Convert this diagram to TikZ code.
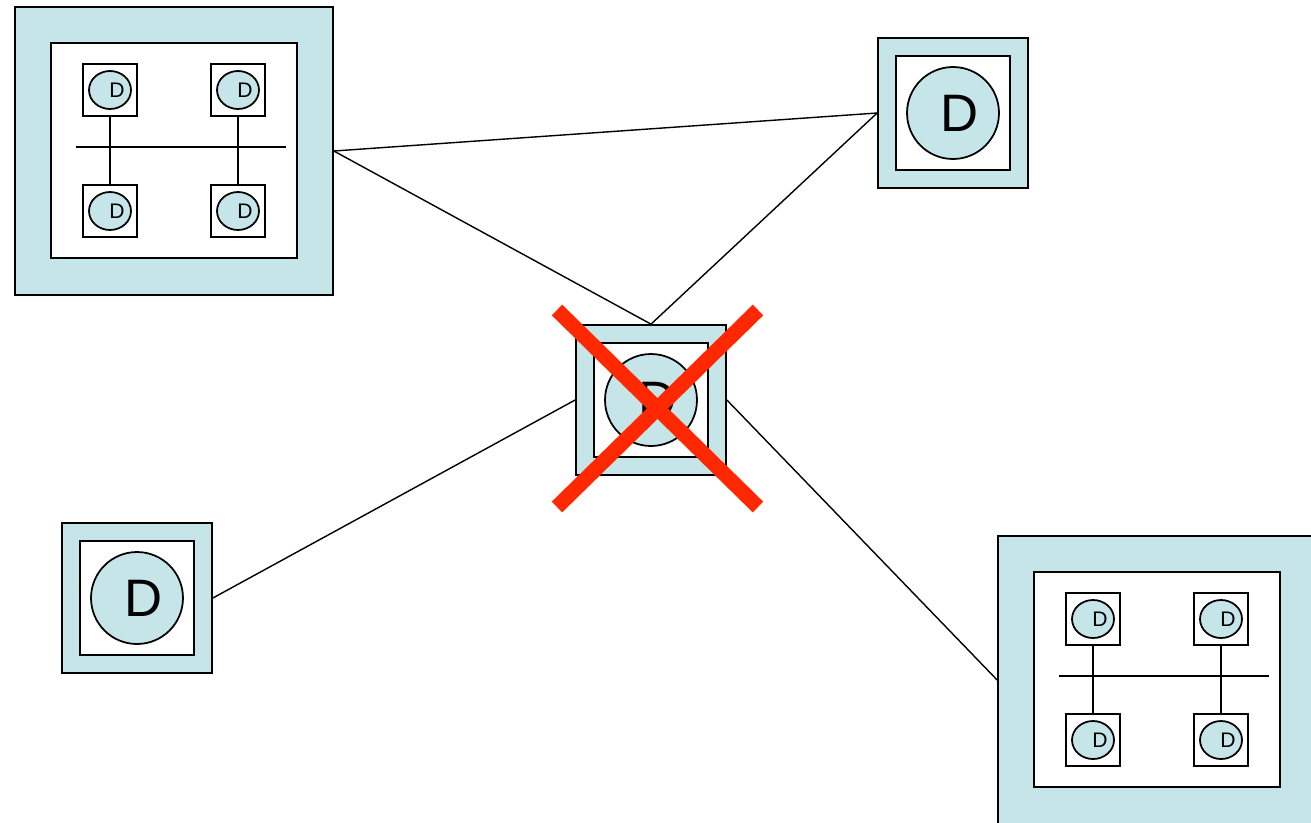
\documentclass[tikz,border=0pt]{standalone}
\usepackage{fontspec}
\setmainfont{Liberation Sans}
\usetikzlibrary{shapes.geometric, positioning, calc}
\definecolor{diskblue}{RGB}{197,229,232}
\definecolor{crossred}{RGB}{255,40,0}

\begin{document}
\begin{tikzpicture}[
        x=0.02cm, y=-0.02cm,
        line width=1pt,
        outer/.style={rectangle, draw, fill=diskblue, inner sep=0pt},
        inner/.style={rectangle, draw, fill=white, inner sep=0pt},
        hostbox/.style={rectangle, draw, fill=white, inner sep=0pt, minimum width=1.08cm, minimum height=1.04cm},
        hostdisk/.style={ellipse, draw, fill=diskblue, inner sep=0pt, minimum width=0.84cm, minimum height=0.76cm},
        bigdisk/.style={circle, draw, fill=diskblue, inner sep=0pt, minimum size=1.84cm},
        biglbl/.style={font=\fontsize{30}{30}\selectfont, xshift=0.13cm},
        link/.style={line width=0.8pt}
    ]
        \useasboundingbox (0,0) rectangle (1311,822);

        % two clusters of four hosts on a bus
        \foreach \p/\dx/\dy in {tl/0/0, br/983/529} {
            \begin{scope}[shift={(\dx,\dy)}, name prefix=\p-]
                \node (outer) [outer, minimum width=6.36cm, minimum height=5.76cm] at (174,151) {};
                \node (inner) [inner, minimum width=4.92cm, minimum height=4.30cm] at (174,150.5) {};
                \foreach \n/\x/\y in {a/110/90, b/238/90, c/110/211, d/238/211} {
                    \node (\n) [hostbox] at (\x,\y) {};
                    \node (\n-disk) [hostdisk] at (\n) {};
                    \node (\n-lbl) [font=\fontsize{12}{12}\selectfont, xshift=0.14cm] at (\n) {D};
                }
                \draw (76,147) -- (286,147);
                \draw (a.south) -- (c.north);
                \draw (b.south) -- (d.north);
            \end{scope}
        }

        % single stations
        \node (tr) [outer, minimum size=3.00cm] at (953,113) {};
        \node (tr-in) [inner, minimum size=2.28cm] at (tr) {};
        \node (tr-disk) [bigdisk] at (tr) {};
        \node (tr-lbl) [biglbl] at (tr) {D};

        \node (bl) [outer, minimum size=3.00cm] at (137,598) {};
        \node (bl-in) [inner, minimum size=2.28cm] at (bl) {};
        \node (bl-disk) [bigdisk] at (bl) {};
        \node (bl-lbl) [biglbl] at (bl) {D};

        \node (ct) [outer, minimum size=3.00cm] at (651,400) {};
        \node (ct-in) [inner, minimum size=2.28cm] at (ct) {};
        \node (ct-disk) [bigdisk] at (ct) {};
        \node (ct-lbl) [biglbl] at (ct) {D};

        % links
        \draw [link] (tl-outer.east) -- (tr.west);
        \draw [link] (tl-outer.east) -- (ct.north);
        \draw [link] (tr.west) -- (ct.north);
        \draw [link] (bl.east) -- (ct.west);
        \draw [link] (ct.east) -- (br-outer.west);

        % failed node
        \draw [crossred, line width=8.5pt] (557,310) -- (758,507);
        \draw [crossred, line width=8.5pt] (758,310) -- (557,507);
    \end{tikzpicture}
\end{document}
